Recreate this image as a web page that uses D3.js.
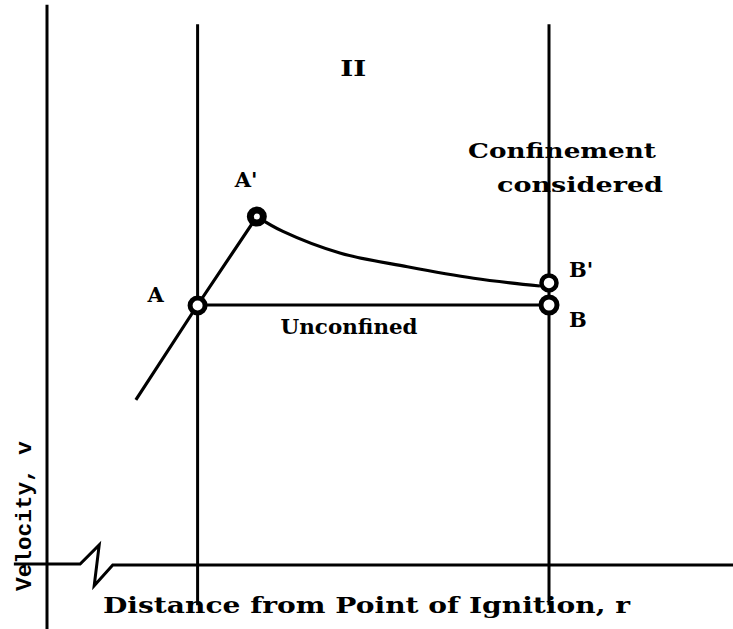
<!DOCTYPE html>
<html>
<head>
<meta charset="utf-8">
<script src="https://cdn.jsdelivr.net/npm/d3@7/dist/d3.min.js"></script>
<style>
  body { margin: 0; background: #fff; }
  text { fill: #000; }
</style>
</head>
<body>
<div id="chart"></div>
<script>
// r: distance as a fraction of the r at B, v: velocity as a fraction of v at A
const stationR = [0.3, 1];                       // vertical lines through A and B
const rayleighR = [0.177, 0.3, 0.418];           // curve up to A'
const rayleighV = [0.635, 1.0, 1.34];
const confinedR = [0.418, 0.47, 0.585, 0.718, 0.85, 0.982];
const confinedV = [1.34, 1.283, 1.199, 1.147, 1.103, 1.073];
const unconfinedR = [0.3, 1];
const unconfinedV = [1, 1];
const pointNames = ["A", "A'", "B'", "B"];
const pointR = [0.3, 0.418, 1, 1];
const pointV = [0.998, 1.34, 1.085, 1.0];
// broken r axis (zig-zag near the origin)
const axisR = [-0.066, 0.066, 0.104, 0.094, 0.131, 1.37];
const axisV = [0.004, 0.004, 0.077, -0.08, 0, 0];

const width = 733, height = 629;

const svg = d3.select("#chart").append("svg")
  .attr("width", width)
  .attr("height", height)
  .style("background-color", "#fff");

const x = d3.scaleLinear().domain([0, 1]).range([47, 549]);
const y = d3.scaleLinear().domain([0, 1]).range([565, 305]);

const serif = "'DejaVu Serif', serif";
const ink = "#000";

// velocity axis
svg.append("line")
  .attr("x1", x(0)).attr("x2", x(0))
  .attr("y1", y(2.155)).attr("y2", height)
  .attr("stroke", ink).attr("stroke-width", 3);

// distance axis with break
svg.append("path")
  .datum(axisR.map((r, i) => [r, axisV[i]]))
  .attr("d", d3.line().x(d => x(d[0])).y(d => y(d[1])))
  .attr("fill", "none")
  .attr("stroke", ink)
  .attr("stroke-width", 3)
  .attr("stroke-linejoin", "miter");

// station lines
svg.selectAll(".station")
  .data(stationR)
  .enter()
  .append("line")
  .attr("class", "station")
  .attr("x1", d => x(d)).attr("x2", d => x(d))
  .attr("y1", y(2.08)).attr("y2", y(-0.155))
  .attr("stroke", ink)
  .attr("stroke-width", 3);

const line = d3.line().x(d => x(d[0])).y(d => y(d[1]));

svg.append("path")
  .datum(unconfinedR.map((r, i) => [r, unconfinedV[i]]))
  .attr("d", line)
  .attr("fill", "none").attr("stroke", ink).attr("stroke-width", 3);

svg.append("path")
  .datum(rayleighR.map((r, i) => [r, rayleighV[i]]))
  .attr("d", line.curve(d3.curveMonotoneX))
  .attr("fill", "none").attr("stroke", ink).attr("stroke-width", 3.2);

svg.append("path")
  .datum(confinedR.map((r, i) => [r, confinedV[i]]))
  .attr("d", line.curve(d3.curveCatmullRom.alpha(0.5)))
  .attr("fill", "none").attr("stroke", ink).attr("stroke-width", 3.2);

// state points
const pointStyle = { "A": [7.5, 5], "A'": [6.5, 7], "B'": [7.5, 4.5], "B": [8, 5] };
svg.selectAll(".pt")
  .data(pointNames.map((n, i) => ({ name: n, r: pointR[i], v: pointV[i] })))
  .enter()
  .append("circle")
  .attr("class", "pt")
  .attr("cx", d => x(d.r))
  .attr("cy", d => y(d.v))
  .attr("r", d => pointStyle[d.name][0])
  .attr("fill", "#fff")
  .attr("stroke", ink)
  .attr("stroke-width", d => pointStyle[d.name][1]);

// point labels
const labelOffset = { "A": [-50, -4], "A'": [-22, -30], "B'": [20, -6], "B": [20, 22] };
svg.selectAll(".pt-label")
  .data(pointNames.map((n, i) => ({ name: n, r: pointR[i], v: pointV[i] })))
  .enter()
  .append("text")
  .attr("class", "pt-label")
  .attr("x", d => x(d.r) + labelOffset[d.name][0])
  .attr("y", d => y(d.v) + labelOffset[d.name][1])
  .attr("font-family", serif)
  .attr("font-size", "21px")
  .attr("font-weight", "bold")
  .text(d => d.name);

// annotations
function note(txt, tx, ty, len, size, weight) {
  const t = svg.append("text")
    .attr("x", tx).attr("y", ty)
    .attr("font-family", serif)
    .attr("font-size", size + "px")
    .attr("font-weight", weight || "normal")
    .text(txt);
  if (len) t.attr("textLength", len).attr("lengthAdjust", "spacingAndGlyphs");
  return t;
}

note("Unconfined", x(0.3) + 83, y(1) + 29, 137, 21, "bold");
note("Confinement", x(1) - 81, y(1) - 147, 188, 21, "bold");
note("considered", x(1) - 52, y(1) - 113, 166, 21, "bold");
note("II", x(0.61) - 13, y(1.88), 26, 22, "bold");
note("Distance from Point of Ignition,  r", x(0) + 56, y(-0.185), 527, 22, "bold");

svg.append("text")
  .attr("transform", `translate(${x(0) - 16},${y(-0.1)}) rotate(-90)`)
  .attr("font-family", "'Liberation Mono', monospace")
  .attr("font-size", "22px")
  .attr("font-weight", "bold")
  .attr("textLength", 150)
  .attr("lengthAdjust", "spacingAndGlyphs")
  .text("Velocity, v");
</script>
</body>
</html>
